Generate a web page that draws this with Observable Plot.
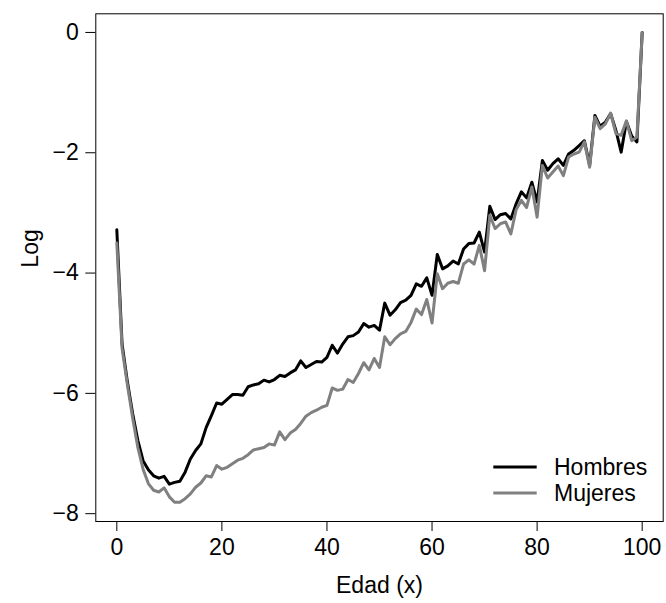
<!DOCTYPE html>
<html>
<head>
<meta charset="utf-8">
<script src="https://cdn.jsdelivr.net/npm/d3@7"></script>
<script src="https://cdn.jsdelivr.net/npm/@observablehq/plot@0.6"></script>
<style>
  html, body { margin: 0; padding: 0; background: white; }
  #chart { width: 666px; height: 603px; }
</style>
</head>
<body>
<div id="chart"></div>
<script>
// Ages 0..100
const ages = d3.range(0, 101);

const hombres = [
  -3.28, -5.18, -5.80, -6.33, -6.78, -7.12, -7.27, -7.37, -7.41, -7.38,
  -7.51, -7.48, -7.46, -7.31, -7.09, -6.95, -6.84, -6.57, -6.37, -6.16,
  -6.18, -6.10, -6.02, -6.02, -6.03, -5.89, -5.86, -5.84, -5.78, -5.81,
  -5.77, -5.70, -5.72, -5.66, -5.61, -5.46, -5.57, -5.52, -5.47, -5.48,
  -5.40, -5.20, -5.33, -5.18, -5.06, -5.04, -4.98, -4.84, -4.90, -4.87,
  -4.95, -4.50, -4.70, -4.61, -4.49, -4.45, -4.37, -4.18, -4.22, -4.08,
  -4.37, -3.69, -3.93, -3.88, -3.80, -3.85, -3.60, -3.51, -3.50, -3.32,
  -3.65, -2.89, -3.11, -3.03, -3.01, -3.10, -2.85, -2.65, -2.75, -2.49,
  -2.82, -2.13, -2.29, -2.18, -2.10, -2.21, -2.02, -1.96, -1.88, -1.80,
  -2.21, -1.38, -1.56, -1.49, -1.35, -1.63, -1.99, -1.48, -1.72, -1.82,
  0.00
];

const mujeres = [
  -3.50, -5.25, -5.85, -6.40, -6.90, -7.26, -7.50, -7.61, -7.64, -7.57,
  -7.72, -7.81, -7.81, -7.75, -7.67, -7.56, -7.49, -7.37, -7.39, -7.20,
  -7.26, -7.23, -7.17, -7.11, -7.08, -7.02, -6.94, -6.92, -6.90, -6.84,
  -6.86, -6.64, -6.77, -6.66, -6.60, -6.50, -6.38, -6.32, -6.28, -6.23,
  -6.20, -5.91, -5.95, -5.93, -5.77, -5.82, -5.67, -5.49, -5.61, -5.42,
  -5.57, -5.06, -5.19, -5.09, -5.01, -4.97, -4.82, -4.60, -4.69, -4.44,
  -4.83, -4.01, -4.26, -4.17, -4.14, -4.17, -3.85, -3.78, -3.85, -3.54,
  -3.96, -3.04, -3.26, -3.18, -3.15, -3.35, -2.95, -2.79, -2.91, -2.57,
  -3.07, -2.21, -2.42, -2.32, -2.22, -2.38, -2.07, -2.02, -1.99, -1.82,
  -2.24, -1.41, -1.60, -1.52, -1.34, -1.68, -1.71, -1.47, -1.80, -1.74,
  0.00
];

const series = ["Hombres", "Mujeres"];
const seriesColors = ["#000000", "#808080"];
const xTicks = [0, 20, 40, 60, 80, 100];
const yTicks = [-8, -6, -4, -2, 0];
const xTitle = "Edad (x)";
const yTitle = "Log";

const dataH = ages.map((a, i) => ({age: a, value: hombres[i]}));
const dataM = ages.map((a, i) => ({age: a, value: mujeres[i]}));

const FONT = "'Liberation Sans', Arial, Helvetica, sans-serif";
const FS = 23;

const svg = Plot.plot({
  width: 666,
  height: 603,
  marginLeft: 95.3,
  marginRight: 3.3,
  marginTop: 13.3,
  marginBottom: 82,
  style: {fontFamily: FONT, fontSize: FS + "px", background: "white", color: "black"},
  x: {domain: [-4, 104]},
  y: {domain: [-8.13, 0.31]},
  marks: [
    Plot.axisX({ticks: xTicks, tickSize: 10, tickPadding: 7, label: null, fontSize: FS, tickFormat: d3.format("d")}),
    Plot.axisY({ticks: yTicks, tickSize: 10, tickPadding: 7, label: null, fontSize: FS}),
    Plot.frame({stroke: "black", strokeWidth: 1}),
    Plot.line(dataH, {x: "age", y: "value", stroke: seriesColors[0], strokeWidth: 3, strokeLinejoin: "round"}),
    Plot.line(dataM, {x: "age", y: "value", stroke: seriesColors[1], strokeWidth: 3, strokeLinejoin: "round"}),
    Plot.text([xTitle], {text: d => d, frameAnchor: "bottom", dy: 64, lineAnchor: "middle", fontSize: FS, fill: "black"}),
    Plot.text([yTitle], {text: d => d, frameAnchor: "left", dx: -65, rotate: -90, lineAnchor: "middle", fontSize: FS, fill: "black"})
  ]
});

// Legend (bottom-right, inside the plot box)
const leg = d3.select(svg).append("g").attr("class", "legend");
const legX1 = 493.3, legX2 = 536.7, legTextX = 554;
const legY = [467, 493];
series.forEach((name, i) => {
  leg.append("line")
    .attr("x1", legX1).attr("x2", legX2)
    .attr("y1", legY[i]).attr("y2", legY[i])
    .attr("stroke", seriesColors[i]).attr("stroke-width", 3);
  leg.append("text")
    .attr("x", legTextX).attr("y", legY[i])
    .attr("dy", "0.35em")
    .attr("text-anchor", "start")
    .attr("font-family", FONT).attr("font-size", FS)
    .attr("fill", "black")
    .text(name);
});

document.getElementById("chart").appendChild(svg);
</script>
</body>
</html>
